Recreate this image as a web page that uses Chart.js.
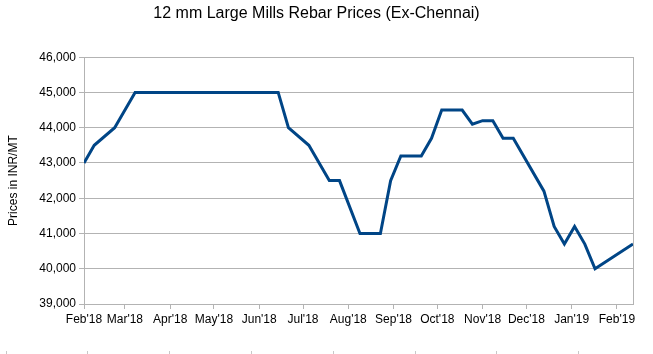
<!DOCTYPE html>
<html>
<head>
<meta charset="utf-8">
<script src="https://cdn.jsdelivr.net/npm/chart.js@4"></script>
<style>
  html, body { margin: 0; padding: 0; background: #fff; }
  #wrap { width: 653px; height: 354px; }
</style>
</head>
<body>
<div id="wrap"><canvas id="chart" width="653" height="354"></canvas></div>
<script>
// weekly price readings (INR per tonne)
const dates = [
  "2018-02-01", "2018-02-08", "2018-02-22", "2018-03-08", "2018-06-14",
  "2018-06-21", "2018-07-05", "2018-07-19", "2018-07-26", "2018-08-09",
  "2018-08-23", "2018-08-30", "2018-09-06", "2018-09-20", "2018-09-27",
  "2018-10-04", "2018-10-18", "2018-10-25", "2018-11-01", "2018-11-08",
  "2018-11-15", "2018-11-22", "2018-12-13", "2018-12-20", "2018-12-27",
  "2019-01-03", "2019-01-10", "2019-01-17", "2019-02-12"
];
const prices = [
  43000, 43500, 44000, 45000, 45000,
  44000, 43500, 42500, 42500, 41000,
  41000, 42500, 43200, 43200, 43700,
  44500, 44500, 44100, 44200, 44200,
  43700, 43700, 42200, 41200, 40700,
  41200, 40700, 40000, 40700
];
const monthStarts = [
  "2018-02-01", "2018-03-01", "2018-04-01", "2018-05-01", "2018-06-01",
  "2018-07-01", "2018-08-01", "2018-09-01", "2018-10-01", "2018-11-01",
  "2018-12-01", "2019-01-01", "2019-02-01"
];
const monthLabels = [
  "Feb'18", "Mar'18", "Apr'18", "May'18", "Jun'18", "Jul'18", "Aug'18",
  "Sep'18", "Oct'18", "Nov'18", "Dec'18", "Jan'19", "Feb'19"
];

const DAY = 86400000;
const t0 = Date.parse(dates[0]);
const toDay = d => Math.round((Date.parse(d) - t0) / DAY);
const points = dates.map((d, i) => ({ x: toDay(d), y: prices[i] }));
const monthDays = monthStarts.map(toDay);

const gridColor = "#b3b3b3";
const font = { family: "'Liberation Sans', Arial, sans-serif", size: 12 };

// faint cell borders under the chart
const cellMarks = {
  id: "cellMarks",
  afterDraw(chart) {
    const ctx = chart.ctx;
    ctx.save();
    ctx.strokeStyle = "#c8c8c8";
    ctx.lineWidth = 1;
    for (let x = 5.5; x < 653; x += 81.8) {
      ctx.beginPath();
      ctx.moveTo(Math.round(x) + 0.5, 351);
      ctx.lineTo(Math.round(x) + 0.5, 354);
      ctx.stroke();
    }
    ctx.restore();
  }
};

new Chart(document.getElementById("chart"), {
  type: "line",
  data: {
    datasets: [{
      data: points,
      borderColor: "#004586",
      borderWidth: 3,
      pointRadius: 0,
      tension: 0,
      fill: false
    }]
  },
  options: {
    responsive: false,
    animation: false,
    layout: { padding: { left: 0, right: 20, top: 4, bottom: 0 } },
    plugins: {
      legend: { display: false },
      tooltip: { enabled: false },
      title: {
        display: true,
        text: "12 mm Large Mills Rebar Prices (Ex-Chennai)",
        color: "#000",
        font: { family: font.family, size: 16, weight: "normal" },
        padding: { top: 0, bottom: 34 }
      }
    },
    scales: {
      x: {
        type: "linear",
        min: 0,
        max: points[points.length - 1].x,
        afterBuildTicks: s => { s.ticks = monthDays.map(v => ({ value: v })); },
        afterFit: s => { s.height = 50; },
        ticks: {
          autoSkip: false,
          maxRotation: 0,
          padding: 3,
          color: "#000",
          font,
          callback: v => monthLabels[monthDays.indexOf(v)]
        },
        grid: { drawOnChartArea: false, color: gridColor, tickLength: 5 },
        border: { color: gridColor }
      },
      y: {
        min: 39000,
        max: 46000,
        afterFit: s => { s.width = 84; },
        ticks: {
          stepSize: 1000,
          padding: 3,
          color: "#000",
          font,
          callback: v => v.toLocaleString("en-US")
        },
        grid: { color: gridColor, tickLength: 5 },
        border: { color: gridColor },
        title: {
          display: true,
          text: "Prices in INR/MT",
          color: "#000",
          font,
          padding: { top: 6, bottom: 4 }
        }
      },
      y2: {
        position: "right",
        min: 39000,
        max: 46000,
        ticks: { display: false },
        grid: { display: false },
        border: { color: gridColor },
        afterFit: s => { s.width = 0; }
      }
    }
  },
  plugins: [cellMarks]
});
</script>
</body>
</html>
